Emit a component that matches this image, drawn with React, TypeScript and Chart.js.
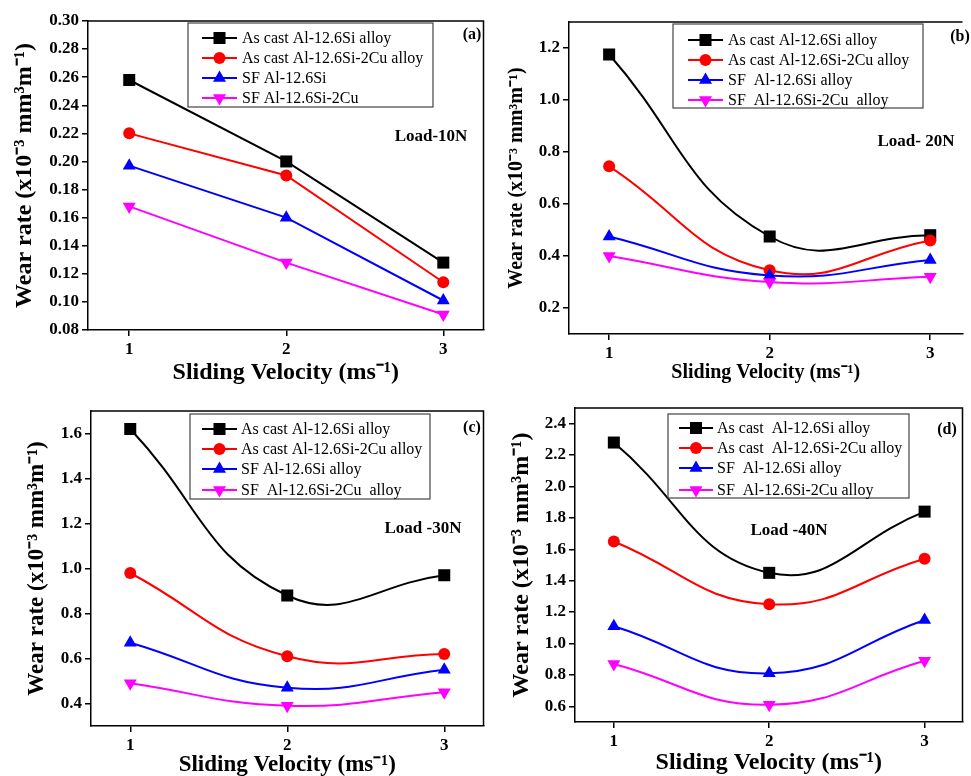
import React, { useEffect, useRef } from 'react';
import { Chart, registerables } from 'chart.js';

Chart.register(...registerables);

// ---------------- DATA ----------------
const velocity = [1, 2, 3];
const xTicks = [1, 2, 3];

// (a) Load 10 N
const a_asCastSi = [0.258, 0.2, 0.128];
const a_asCastSiCu = [0.22, 0.19, 0.114];
const a_sfSi = [0.197, 0.16, 0.101];
const a_sfSiCu = [0.168, 0.128, 0.091];
// (b) Load 20 N
const b_asCastSi = [1.175, 0.475, 0.48];
const b_asCastSiCu = [0.745, 0.345, 0.46];
const b_sfSi = [0.475, 0.325, 0.385];
const b_sfSiCu = [0.4, 0.3, 0.32];
// (c) Load 30 N
const c_asCastSi = [1.62, 0.88, 0.97];
const c_asCastSiCu = [0.98, 0.61, 0.62];
const c_sfSi = [0.67, 0.47, 0.55];
const c_sfSiCu = [0.49, 0.39, 0.45];
// (d) Load 40 N
const d_asCastSi = [2.28, 1.45, 1.84];
const d_asCastSiCu = [1.65, 1.25, 1.54];
const d_sfSi = [1.11, 0.81, 1.15];
const d_sfSiCu = [0.87, 0.61, 0.89];

const yTicksA = [0.08, 0.1, 0.12, 0.14, 0.16, 0.18, 0.2, 0.22, 0.24, 0.26, 0.28, 0.3];
const yTicksB = [0.2, 0.4, 0.6, 0.8, 1.0, 1.2];
const yTicksC = [0.4, 0.6, 0.8, 1.0, 1.2, 1.4, 1.6];
const yTicksD = [0.6, 0.8, 1.0, 1.2, 1.4, 1.6, 1.8, 2.0, 2.2, 2.4];

const legendA = ['As cast Al-12.6Si alloy', 'As cast Al-12.6Si-2Cu alloy', 'SF Al-12.6Si', 'SF Al-12.6Si-2Cu'];
const legendB = ['As cast Al-12.6Si alloy', 'As cast Al-12.6Si-2Cu alloy', 'SF  Al-12.6Si alloy', 'SF  Al-12.6Si-2Cu  alloy'];
const legendC = ['As cast Al-12.6Si alloy', 'As cast Al-12.6Si-2Cu alloy', 'SF Al-12.6Si alloy', 'SF  Al-12.6Si-2Cu  alloy'];
const legendD = ['As cast  Al-12.6Si alloy', 'As cast  Al-12.6Si-2Cu alloy', 'SF  Al-12.6Si alloy', 'SF  Al-12.6Si-2Cu alloy'];

const panelTags = ['(a)', '(b)', '(c)', '(d)'];
const loadLabels = ['Load-10N', 'Load- 20N', 'Load -30N', 'Load -40N'];
const yTitle = 'Wear rate (x10\u207B\u00B3 mm\u00B3m\u207B\u00B9)';
const xTitle = 'Sliding Velocity (ms\u207B\u00B9)';

// ---------------- STYLE ----------------
const colors = ['#000000', '#ff0000', '#0000ff', '#ff00ff'];
const pointStyles = ['rect', 'circle', 'triangle', 'triangle'];
const pointRotations = [0, 0, 0, 180];
const pointRadii = [8.5, 6, 7.5, 7.5];
const SERIF = '"Liberation Serif", "Times New Roman", serif';

type Panel = {
  left: number; top: number; width: number; height: number;
  area: { l: number; t: number; r: number; b: number };
  xMin: number; xMax: number; yMin: number; yMax: number;
  yTicks: number[]; decimals: number; tension: number;
  series: number[][]; labels: string[];
  tickFont: number; titleFont: number; yTitleX: number; xTitleY: number;
  legend: { x: number; y: number; w: number; h: number; rows: number[]; lx0: number; lx1: number; tx: number };
  tag: { x: number; y: number }; load: { x: number; y: number };
  frameRight: boolean; idx: number;
};

const panels: Panel[] = [
  {
    idx: 0, left: 0, top: 0, width: 492, height: 388,
    area: { l: 88, t: 21, r: 491, b: 330 },
    xMin: 0.7375, xMax: 3.256, yMin: 0.08, yMax: 0.3, yTicks: yTicksA, decimals: 2, tension: 0,
    series: [a_asCastSi, a_asCastSiCu, a_sfSi, a_sfSiCu], labels: legendA,
    tickFont: 17, titleFont: 24, yTitleX: 25, xTitleY: 373,
    legend: { x: 188, y: 23, w: 245, h: 84, rows: [38, 58, 78, 98], lx0: 202, lx1: 237, tx: 242 },
    tag: { x: 472, y: 35 }, load: { x: 431, y: 137 }, frameRight: true,
  },
  {
    idx: 1, left: 492, top: 0, width: 479, height: 388,
    area: { l: 77, t: 22, r: 479, b: 334 },
    xMin: 0.75, xMax: 3.201, yMin: 0.1, yMax: 1.3, yTicks: yTicksB, decimals: 1, tension: 0.45,
    series: [b_asCastSi, b_asCastSiCu, b_sfSi, b_sfSiCu], labels: legendB,
    tickFont: 17, titleFont: 20, yTitleX: 25, xTitleY: 373,
    legend: { x: 181, y: 24, w: 250, h: 84, rows: [40, 60, 80, 100], lx0: 196, lx1: 231, tx: 236 },
    tag: { x: 468, y: 37 }, load: { x: 424, y: 142 }, frameRight: false,
  },
  {
    idx: 2, left: 0, top: 388, width: 492, height: 388,
    area: { l: 91, t: 23, r: 491, b: 338 },
    xMin: 0.75, xMax: 3.25, yMin: 0.3, yMax: 1.7, yTicks: yTicksC, decimals: 1, tension: 0.45,
    series: [c_asCastSi, c_asCastSiCu, c_sfSi, c_sfSiCu], labels: legendC,
    tickFont: 17, titleFont: 23, yTitleX: 37, xTitleY: 377,
    legend: { x: 190, y: 26, w: 240, h: 85, rows: [41, 61, 81, 102], lx0: 202, lx1: 237, tx: 241 },
    tag: { x: 472, y: 40 }, load: { x: 423, y: 141 }, frameRight: true,
  },
  {
    idx: 3, left: 492, top: 388, width: 479, height: 388,
    area: { l: 83, t: 20, r: 472, b: 334 },
    xMin: 0.75, xMax: 3.244, yMin: 0.5, yMax: 2.5, yTicks: yTicksD, decimals: 1, tension: 0.45,
    series: [d_asCastSi, d_asCastSiCu, d_sfSi, d_sfSiCu], labels: legendD,
    tickFont: 17, titleFont: 24, yTitleX: 30, xTitleY: 375,
    legend: { x: 176, y: 26, w: 241, h: 84, rows: [40, 60, 80, 102], lx0: 187, lx1: 221, tx: 225 },
    tag: { x: 455, y: 42 }, load: { x: 297, y: 143 }, frameRight: true,
  },
];

function drawMarker(ctx: CanvasRenderingContext2D, i: number, x: number, y: number) {
  const r = pointRadii[i];
  ctx.fillStyle = colors[i];
  ctx.beginPath();
  if (pointStyles[i] === 'rect') {
    const s = r * Math.SQRT1_2;
    ctx.rect(x - s, y - s, 2 * s, 2 * s);
  } else if (pointStyles[i] === 'circle') {
    ctx.arc(x, y, r, 0, Math.PI * 2);
  } else {
    let rad = (pointRotations[i] * Math.PI) / 180;
    ctx.moveTo(x + Math.sin(rad) * r, y - Math.cos(rad) * r);
    for (let k = 0; k < 2; k++) {
      rad += (2 * Math.PI) / 3;
      ctx.lineTo(x + Math.sin(rad) * r, y - Math.cos(rad) * r);
    }
    ctx.closePath();
  }
  ctx.fill();
}

function makeDecor(p: Panel) {
  return {
    id: 'decor' + p.idx,
    afterDraw(chart: any) {
      const ctx: CanvasRenderingContext2D = chart.ctx;
      const ca = chart.chartArea;
      ctx.save();
      // frame top / right
      ctx.strokeStyle = '#000';
      ctx.lineWidth = 1.5;
      ctx.beginPath();
      ctx.moveTo(ca.left, ca.top);
      ctx.lineTo(ca.right, ca.top);
      if (p.frameRight) ctx.lineTo(ca.right, ca.bottom);
      ctx.stroke();

      // legend
      const L = p.legend;
      ctx.fillStyle = '#fff';
      ctx.fillRect(L.x, L.y, L.w, L.h);
      ctx.strokeStyle = '#444';
      ctx.lineWidth = 1.2;
      ctx.strokeRect(L.x, L.y, L.w, L.h);
      ctx.font = `16px ${SERIF}`;
      ctx.textBaseline = 'middle';
      ctx.textAlign = 'left';
      chart.data.datasets.forEach((ds: any, i: number) => {
        const y = L.rows[i];
        ctx.strokeStyle = colors[i];
        ctx.lineWidth = 2.2;
        ctx.beginPath();
        ctx.moveTo(L.lx0, y);
        ctx.lineTo(L.lx1, y);
        ctx.stroke();
        drawMarker(ctx, i, (L.lx0 + L.lx1) / 2, y);
        ctx.fillStyle = '#000';
        ctx.fillText(ds.label, L.tx, y + 1);
      });

      // annotations
      ctx.fillStyle = '#000';
      ctx.textAlign = 'center';
      ctx.font = `bold 16px ${SERIF}`;
      ctx.fillText(panelTags[p.idx], p.tag.x, p.tag.y);
      ctx.font = `bold 17px ${SERIF}`;
      ctx.fillText(loadLabels[p.idx], p.load.x, p.load.y);
      ctx.restore();
    },
  };
}

function buildConfig(p: Panel): any {
  const titleLH = p.titleFont * 1.2;
  return {
    type: 'line',
    data: {
      datasets: p.series.map((vals, i) => ({
        label: p.labels[i],
        data: velocity.map((v, k) => ({ x: v, y: vals[k] })),
        borderColor: colors[i],
        backgroundColor: colors[i],
        borderWidth: 2,
        pointStyle: pointStyles[i],
        pointRotation: pointRotations[i],
        pointRadius: pointRadii[i],
        pointBorderWidth: 0,
        pointBackgroundColor: colors[i],
        tension: p.tension,
        fill: false,
        order: 3 - i,
        clip: false,
      })),
    },
    options: {
      responsive: false,
      animation: false,
      devicePixelRatio: 1,
      layout: {
        padding: { left: 0, top: p.area.t, right: p.width - p.area.r, bottom: 0 },
      },
      plugins: {
        legend: { display: false },
        tooltip: { enabled: false },
        title: { display: false },
      },
      scales: {
        x: {
          type: 'linear',
          min: p.xMin,
          max: p.xMax,
          afterBuildTicks: (scale: any) => {
            scale.ticks = xTicks.map((v) => ({ value: v }));
          },
          afterFit: (scale: any) => {
            scale.height = p.height - p.area.b;
          },
          ticks: {
            color: '#000',
            font: { family: SERIF, size: p.tickFont, weight: 'bold' },
            padding: 3,
            maxRotation: 0,
            autoSkip: false,
            callback: (v: any) => String(v),
          },
          grid: { display: true, drawOnChartArea: false, drawTicks: true, tickLength: 6, color: '#000', lineWidth: 1.5 },
          border: { display: true, color: '#000', width: 1.5 },
          title: {
            display: true,
            text: xTitle,
            color: '#000',
            font: { family: SERIF, size: p.titleFont, weight: 'bold' },
            padding: { top: 0, bottom: p.height - p.xTitleY - titleLH / 2 },
          },
        },
        y: {
          type: 'linear',
          min: p.yMin,
          max: p.yMax,
          afterBuildTicks: (scale: any) => {
            scale.ticks = p.yTicks.map((v) => ({ value: v }));
          },
          afterFit: (scale: any) => {
            scale.width = p.area.l;
          },
          ticks: {
            color: '#000',
            font: { family: SERIF, size: p.tickFont, weight: 'bold' },
            padding: 3,
            autoSkip: false,
            callback: (v: any) => Number(v).toFixed(p.decimals),
          },
          grid: { display: true, drawOnChartArea: false, drawTicks: true, tickLength: 6, color: '#000', lineWidth: 1.5 },
          border: { display: true, color: '#000', width: 1.5 },
          title: {
            display: true,
            text: yTitle,
            color: '#000',
            font: { family: SERIF, size: p.titleFont, weight: 'bold' },
            padding: { top: p.yTitleX - titleLH / 2, bottom: 0 },
          },
        },
      },
    },
    plugins: [makeDecor(p)],
  };
}

function PanelChart({ p }: { p: Panel }) {
  const ref = useRef<HTMLCanvasElement | null>(null);
  useEffect(() => {
    if (!ref.current) return;
    const chart = new Chart(ref.current, buildConfig(p));
    return () => chart.destroy();
  }, [p]);
  return (
    <canvas
      ref={ref}
      width={p.width}
      height={p.height}
      style={{ position: 'absolute', left: p.left, top: p.top, width: p.width, height: p.height }}
    />
  );
}

export default function App() {
  return (
    <div style={{ position: 'fixed', left: 0, top: 0, width: 971, height: 776, background: '#fff', overflow: 'hidden' }}>
      {panels.map((p) => (
        <PanelChart key={p.idx} p={p} />
      ))}
    </div>
  );
}
